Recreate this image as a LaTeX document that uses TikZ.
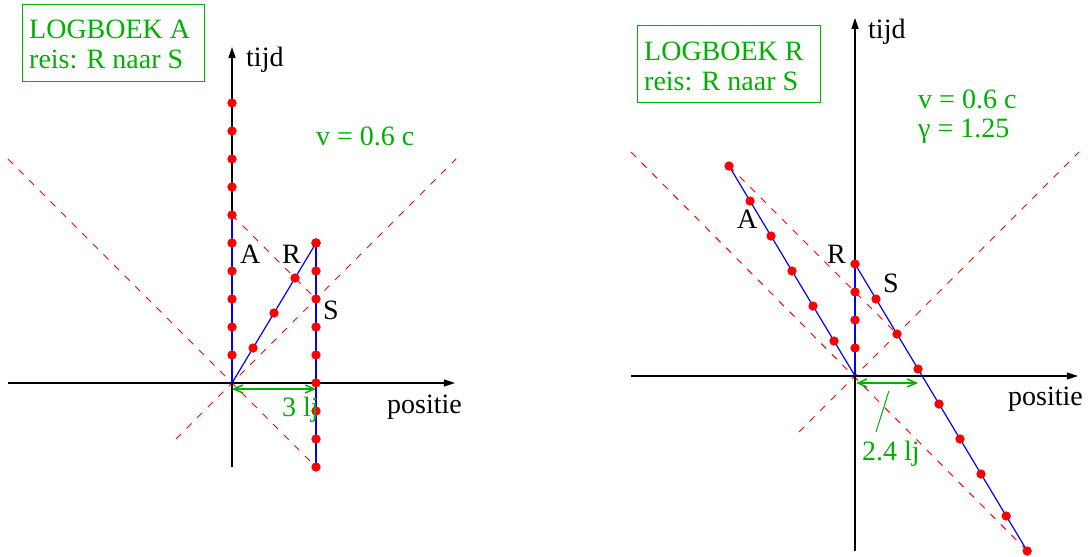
\documentclass[tikz,border=0pt]{standalone}
\usepackage{fontspec}
\setmainfont{Liberation Serif}
\usetikzlibrary{arrows.meta}
\definecolor{fgreen}{RGB}{0,176,0}
\definecolor{fred}{RGB}{255,0,0}
\definecolor{fblue}{RGB}{0,0,255}
\begin{document}
\begin{tikzpicture}[x=1pt,y=-1pt,
  axis/.style={line width=1.3pt, black, -{Triangle[length=11pt,width=7pt]}},
  world/.style={line width=1.2pt, fblue},
  light/.style={line width=1pt, fred, dash pattern=on 7pt off 8pt},
  dot/.style={circle, fill=fred, inner sep=0pt, minimum size=9pt},
  lbl/.style={anchor=base west, inner sep=0pt, font=\fontsize{28}{30}\selectfont},
  glbl/.style={lbl, text=fgreen},
  logbox/.style={draw=fgreen, line width=1.2pt, inner sep=0pt, anchor=north west},
  dist/.style={fgreen, line width=1.5pt, {Straight Barb[length=9pt,width=8pt]}-{Straight Barb[length=9pt,width=8pt]}},
  leader/.style={fgreen, line width=1pt}
]
\fill[white] (0,0) rectangle (1090,557);
\path[use as bounding box] (0,0) rectangle (1090,557);

% ---------------- left diagram: logboek A ----------------
\begin{scope}[shift={(232pt,-383pt)}, x=28pt, y=28pt]
  \coordinate (LO) at (0,0);
  \coordinate (Lxl) at (-8,0);
  \coordinate (Lxr) at (7.96,0);
  \coordinate (Lyb) at (0,-3);
  \coordinate (Lyt) at (0,12);
  \coordinate (Lc1) at (-8,8);
  \coordinate (Lc2) at (3,-3);
  \coordinate (Lc3) at (8,8);
  \coordinate (Lc4) at (-2,-2);
  \coordinate (Ld1) at (0,-0.214);
  \coordinate (Ld2) at (3,-0.214);
  % dots
  \foreach \k in {1,...,10} \node[dot] (LA\k) at (0,\k) {};
  \foreach \k in {1,...,4} \node[dot] (LR\k) at ({0.75*\k},{1.25*\k}) {};
  \foreach \k [count=\i] in {-3,...,5} \node[dot] (LS\i) at (3,\k) {};
  % light lines
  \draw[light] (Lc1) -- (Lc2);
  \draw[light] (Lc4) -- (Lc3);
  \draw[light] (LA6.center) -- (LS7.center);
  % axes
  \draw[axis] (Lxl) -- (Lxr);
  \draw[axis] (Lyb) -- (Lyt);
  % world lines
  \draw[world] (LO) -- (LA6.center);
  \draw[world] (LO) -- (LR4.center);
  \draw[world] (LS1.center) -- (LS9.center);
  % distance
  \draw[dist] (Ld1) -- (Ld2);
  % redraw dots on top
  \foreach \k in {1,...,10} \fill[fred] (LA\k) circle (4.5pt);
  \foreach \k in {1,...,4} \fill[fred] (LR\k) circle (4.5pt);
  \foreach \i in {1,...,9} \fill[fred] (LS\i) circle (4.5pt);
\end{scope}

\node[logbox, minimum width=182pt, minimum height=77pt] (boxA) at (22,4) {};
\node[glbl] (boxAt1) at (29,38) {LOGBOEK A};
\node[glbl] (boxAt2) at (29,68) {reis: R naar S};
\node[lbl] (Ltijd) at (246,66) {tijd};
\node[glbl] (Lv) at (316,145) {v = 0.6 c};
\node[lbl] (LlA) at (240,263) {A};
\node[lbl] (LlR) at (282,263) {R};
\node[lbl] (LlS) at (323,319) {S};
\node[lbl] (Lpos) at (387,413) {positie};
\node[glbl] (Ldist) at (282,416) {3 lj};

% ---------------- right diagram: logboek R ----------------
\begin{scope}[shift={(855pt,-376pt)}, x=28pt, y=28pt]
  \coordinate (RO) at (0,0);
  \coordinate (Rxl) at (-8,0);
  \coordinate (Rxr) at (7.96,0);
  \coordinate (Ryb) at (0,-6.25);
  \coordinate (Ryt) at (0,12.79);
  \coordinate (Rc1) at (-8,8);
  \coordinate (Rc3) at (8,8);
  \coordinate (Rc4) at (-2,-2);
  \coordinate (Rd1) at (0.04,-0.25);
  \coordinate (Rd2) at (2.25,-0.25);
  \coordinate (Rl1) at (1.21,-0.54);
  \coordinate (Rl2) at (0.75,-2);
  % dots
  \foreach \k in {1,...,6} \node[dot] (RA\k) at ({-0.75*\k},{1.25*\k}) {};
  \foreach \k in {1,...,4} \node[dot] (RR\k) at (0,\k) {};
  \foreach \t [count=\i] in {2.75,1.5,0.25,-1,-2.25,-3.5,-5,-6.25}
    \node[dot] (RS\i) at ({2.4-0.6*\t},\t) {};
  % light lines
  \draw[light] (Rc1) -- (RS8.center);
  \draw[light] (Rc4) -- (Rc3);
  \draw[light] (RA6.center) -- (RS2.center);
  % axes
  \draw[axis] (Rxl) -- (Rxr);
  \draw[axis] (Ryb) -- (Ryt);
  % world lines
  \draw[world] (RO) -- (RR4.center);
  \draw[world] (RO) -- (RA6.center);
  \draw[world] (RR4.center) -- (RS8.center);
  % distance
  \draw[dist] (Rd1) -- (Rd2);
  \draw[leader] (Rl1) -- (Rl2);
  % dots on top
  \foreach \k in {1,...,6} \fill[fred] (RA\k) circle (4.5pt);
  \foreach \k in {1,...,4} \fill[fred] (RR\k) circle (4.5pt);
  \foreach \i in {1,...,8} \fill[fred] (RS\i) circle (4.5pt);
\end{scope}

\node[logbox, minimum width=183pt, minimum height=77pt] (boxR) at (637,25) {};
\node[glbl] (boxRt1) at (644,60) {LOGBOEK R};
\node[glbl] (boxRt2) at (644,90) {reis: R naar S};
\node[lbl] (Rtijd) at (868,38) {tijd};
\node[glbl] (Rv) at (918,108) {v = 0.6 c};
\node[glbl] (Rg) at (918,137) {γ = 1.25};
\node[lbl] (RlA) at (737,228) {A};
\node[lbl] (RlR) at (827,263) {R};
\node[lbl] (RlS) at (883,292) {S};
\node[lbl] (Rpos) at (1008,405) {positie};
\node[glbl] (Rdist) at (862,460) {2.4 lj};
\end{tikzpicture}
\end{document}
